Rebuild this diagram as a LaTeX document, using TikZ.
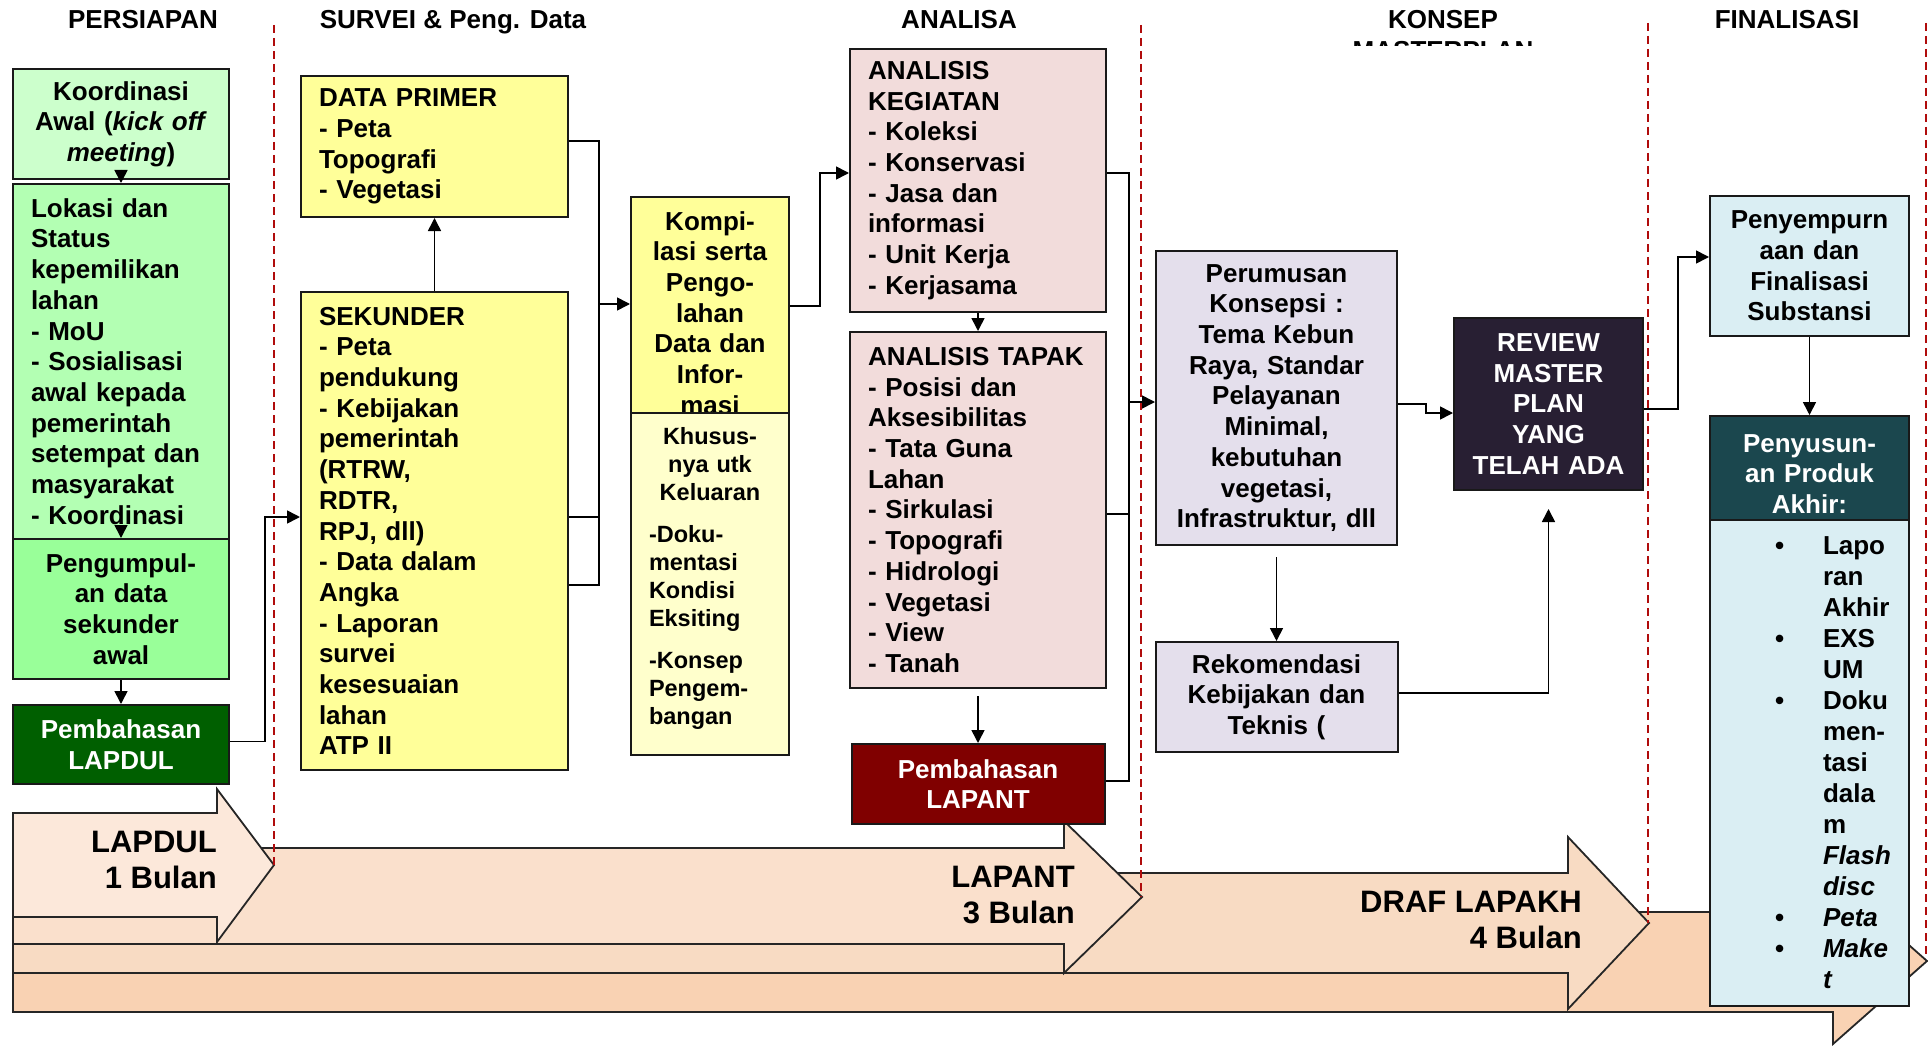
\documentclass[tikz,border=0pt]{standalone}
\usepackage{fontspec}
\setmainfont{Liberation Sans}
\usepackage{xcolor}
\usepackage{tikz}
\usetikzlibrary{arrows.meta,positioning,calc}

\definecolor{hijauMuda}{HTML}{CCFFCC}
\definecolor{hijauSedang}{HTML}{B3FFB3}
\definecolor{hijauTerang}{HTML}{99FF99}
\definecolor{hijauTua}{HTML}{005F00}
\definecolor{kuning}{HTML}{FFFF99}
\definecolor{kuningMuda}{HTML}{FFFFCC}
\definecolor{merahMuda}{HTML}{F2DCDB}
\definecolor{merahTua}{HTML}{800000}
\definecolor{ungu}{HTML}{E4DFEC}
\definecolor{unguTua}{HTML}{281F33}
\definecolor{biruMuda}{HTML}{DAEEF3}
\definecolor{tosca}{HTML}{1B474E}
\definecolor{panahA}{HTML}{FCE8DA}
\definecolor{panahB}{HTML}{FAE0CC}
\definecolor{panahC}{HTML}{F8DBC3}
\definecolor{panahD}{HTML}{F9D2B3}
\definecolor{garis}{HTML}{B00C0C}

\newcommand{\butir}{\makebox[113pt][l]{\hspace*{65pt}•}}
\newcommand{\lanjut}{\hspace*{113pt}}

\begin{document}
\begin{tikzpicture}[
    x=1pt, y=-1pt,
    every node/.style={font=\bfseries\fontsize{26}{30.7}\selectfont},
    kotak/.style={
      rectangle, draw=black!90, line width=2pt,
      inner xsep=18pt, inner ysep=0pt, anchor=north west
    },
    conn/.style={line width=1.6pt, black},
    arr/.style={conn, -{Triangle[length=13pt,width=13pt]}},
    batas/.style={garis, line width=1.6pt, dash pattern=on 8pt off 5pt},
    panah/.style={draw=black!85, line width=1.8pt, line join=miter},
    judul/.style={anchor=base},
    ket/.style={font=\bfseries\fontsize{31}{36}\selectfont, align=right,
      anchor=north east, inner sep=0pt}
  ]
    \useasboundingbox (0,0) rectangle (1928,1046);

    % -- timeline arrows (back to front) --
    \draw[panah, fill=panahD] (13,912) -- (1833,912) -- (1833,878) -- (1927,961)
      -- (1833,1044) -- (1833,1012) -- (13,1012) -- cycle;
    \draw[panah, fill=panahC] (13,873) -- (1568,873) -- (1568,837) -- (1649,923)
      -- (1568,1009) -- (1568,973) -- (13,973) -- cycle;
    \draw[panah, fill=panahB] (13,848) -- (1064,848) -- (1064,821) -- (1142,897)
      -- (1064,973) -- (1064,944) -- (13,944) -- cycle;
    \draw[panah, fill=panahA] (13,813) -- (217,813) -- (217,789) -- (274,865)
      -- (217,942) -- (217,917) -- (13,917) -- cycle;

    \node[ket] (ket-lapdul) at (217,831) {LAPDUL\\1 Bulan};
    \node[ket] (ket-lapant) at (1075,866) {LAPANT\\3 Bulan};
    \node[ket] (ket-lapakh) at (1582,891) {DRAF LAPAKH\\4 Bulan};

    % -- phase separators --
    \coordinate (ujungA) at (274,865);
    \coordinate (ujungB) at (1141,897);
    \coordinate (ujungC) at (1648,923);
    \coordinate (ujungD) at (1926,958);
    \draw[batas] (274,25) -- (ujungA);
    \draw[batas] (1141,25) -- (ujungB);
    \draw[batas] (1648,23) -- (ujungC);
    \draw[batas] (1926,23) -- (ujungD);

    % -- phase headers --
    \node[judul] (hdr-persiapan) at (143,29) {PERSIAPAN};
    \node[judul] (hdr-survei) at (453,29) {SURVEI \& Peng. Data};
    \node[judul] (hdr-analisa) at (959,29) {ANALISA};
    \begin{scope}
      \clip (1300,0) rectangle (1600,46);
      \node[align=center, anchor=north, inner sep=0pt] (hdr-konsep) at (1443,10.5)
        {KONSEP\\MASTERPLAN};
    \end{scope}
    \node[judul] (hdr-final) at (1787,29) {FINALISASI};

    % -- PERSIAPAN --
    \node[kotak, fill=hijauMuda, minimum width=216pt, minimum height=110pt,
      text width=180pt, align=center] (koord) at (12,68)
      {Koordinasi\\Awal (\textit{kick off}\\\textit{meeting})};
    \node[kotak, fill=hijauSedang, minimum width=216pt, minimum height=355pt,
      text width=180pt, align=left, below=3pt of koord] (lokasi)
      {Lokasi dan\\Status\\kepemilikan\\lahan\\- MoU\\- Sosialisasi\\awal kepada\\pemerintah\\setempat dan\\masyarakat\\- Koordinasi};
    \node[kotak, fill=hijauTerang, minimum width=216pt, minimum height=140pt,
      text width=180pt, align=center, below=-2pt of lokasi] (pengumpulan)
      {Pengumpul-\\an data\\sekunder\\awal};
    \node[kotak, fill=hijauTua, text=white, minimum width=216pt, minimum height=79pt,
      text width=180pt, align=center, below=24pt of pengumpulan] (lapdul)
      {Pembahasan\\LAPDUL};

    \draw[arr] ([yshift=10pt]koord.south) -- (lokasi.north);
    \draw[arr] ([yshift=14pt]lokasi.south) -- (pengumpulan.north);
    \draw[arr] (pengumpulan.south) -- (lapdul.north);

    % -- SURVEI --
    \node[kotak, fill=kuning, minimum width=267pt, minimum height=141pt,
      text width=231pt, align=left] (primer) at (300,75)
      {DATA PRIMER\\- Peta\\Topografi\\- Vegetasi};
    \node[kotak, fill=kuning, minimum width=267pt, minimum height=478pt,
      text width=231pt, align=left, below=73pt of primer] (sekunder)
      {SEKUNDER\\- Peta\\pendukung\\- Kebijakan\\pemerintah\\(RTRW,\\RDTR,\\RPJ, dll)\\- Data dalam\\Angka\\- Laporan\\survei\\kesesuaian\\lahan\\ATP II};

    \draw[arr] ([yshift=3pt]lapdul.east) -- ++(35,0) |- ([yshift=14pt]sekunder.west);
    \draw[arr] (sekunder.north) -- (primer.south);

    % -- kompilasi --
    \node[kotak, fill=kuning, minimum width=158pt, minimum height=232pt,
      text width=122pt, align=center] (kompilasi) at (630,196)
      {Kompi-\\lasi serta\\Pengo-\\lahan\\Data dan\\Infor-\\masi};
    \node[kotak, fill=kuningMuda, minimum width=158pt, minimum height=342pt,
      text width=122pt, align=left, below=-18pt of kompilasi,
      font=\bfseries\fontsize{23.5}{27.7}\selectfont] (khusus)
      {\makebox[122pt]{Khusus-}\\\makebox[122pt]{nya utk}\\\makebox[122pt]{Keluaran}\\[15pt]-Doku-\\mentasi\\Kondisi\\Eksiting\\[15pt]-Konsep\\Pengem-\\bangan\rule[-16pt]{0pt}{0pt}};

    \coordinate (bus1) at (599,304);
    \draw[conn] ([yshift=5.5pt]primer.east) -| (bus1) |- ([yshift=-54pt]sekunder.east);
    \draw[conn] ([yshift=14pt]sekunder.east) -- ([yshift=14pt]sekunder.east -| bus1);
    \draw[arr] (bus1) -- (bus1 -| kompilasi.west);

    % -- ANALISA --
    \node[kotak, fill=merahMuda, minimum width=256pt, minimum height=263pt,
      text width=220pt, align=left] (ak) at (849,48)
      {ANALISIS\\KEGIATAN\\- Koleksi\\- Konservasi\\- Jasa dan\\informasi\\- Unit Kerja\\- Kerjasama};
    \node[kotak, fill=merahMuda, minimum width=256pt, minimum height=356pt,
      text width=220pt, align=left, below=18pt of ak] (at)
      {ANALISIS~TAPAK\\- Posisi dan\\Aksesibilitas\\- Tata Guna\\Lahan\\- Sirkulasi\\- Topografi\\- Hidrologi\\- Vegetasi\\- View\\- Tanah};
    \node[kotak, fill=merahTua, text=white, minimum width=253pt, minimum height=80pt,
      text width=217pt, align=center, below=54pt of at] (lapant)
      {Pembahasan\\LAPANT};

    \draw[arr] ([yshift=7pt]kompilasi.east) -- ++(30,0) |- ([yshift=7.5pt]ak.west);
    \draw[arr] (ak.south) -- (at.north);
    \draw[arr] ([yshift=-7pt]at.south) -- (lapant.north);

    \coordinate (bus2) at (1129,402);
    \draw[conn] ([yshift=7.5pt]ak.east) -| (bus2) |- ([yshift=3pt]lapant.east);
    \draw[conn] ([yshift=-4pt]at.east) -- ([yshift=-4pt]at.east -| bus2);

    % -- KONSEP MASTERPLAN --
    \node[kotak, fill=ungu, minimum width=241pt, minimum height=294pt,
      text width=205pt, align=center] (perumusan) at (1155,250)
      {Perumusan\\Konsepsi :\\Tema Kebun\\Raya, Standar\\Pelayanan\\Minimal,\\kebutuhan\\vegetasi,\\Infrastruktur,~dll};
    \node[kotak, fill=ungu, minimum width=242pt, minimum height=110pt,
      text width=206pt, align=center, below=95pt of perumusan] (rekomendasi)
      {Rekomendasi\\Kebijakan dan\\Teknis (};
    \node[kotak, fill=unguTua, text=white, minimum width=189pt, minimum height=172pt,
      inner xsep=10pt, text width=169pt, align=center] (review) at (1453,317)
      {REVIEW\\MASTER\\PLAN\\YANG\\TELAH~ADA};

    \draw[arr] (bus2) -- (bus2 -| perumusan.west);
    \draw[arr] ([yshift=-6pt]perumusan.east) -- ++(28,0) |- ([yshift=-9pt]review.west);
    \draw[arr] ([yshift=-11pt]perumusan.south) -- (rekomendasi.north);
    \draw[arr] ([yshift=4pt]rekomendasi.east) -| ([yshift=-18pt]review.south);

    % -- FINALISASI --
    \node[kotak, fill=biruMuda, minimum width=199pt, minimum height=140pt,
      text width=163pt, align=center] (peny) at (1709,195)
      {Penyempurn\\aan dan\\Finalisasi\\Substansi};
    \node[kotak, fill=tosca, text=white, minimum width=199pt, minimum height=116pt,
      text width=163pt, align=center, below=78pt of peny] (penyusun)
      {Penyusun-\\an Produk\\Akhir:};
    \node[kotak, fill=biruMuda, minimum width=199pt, minimum height=486pt,
      inner xsep=0pt, text width=199pt, align=left, below=-14pt of penyusun,
      font=\bfseries\fontsize{26}{31}\selectfont] (produk)
      {\butir Lapo\\\lanjut ran\\\lanjut Akhir\\\butir EXS\\\lanjut UM\\\butir Doku\\\lanjut men-\\\lanjut tasi\\\lanjut dala\\\lanjut m\\\lanjut\textit{Flash}\\\lanjut\textit{disc}\\\butir\textit{Peta}\\\butir\textit{Make}\\\lanjut\textit{t}};

    \draw[arr] ([yshift=-5pt]review.east) -- ++(34,0) |- ([yshift=9pt]peny.west);
    \draw[arr] (peny.south) -- (penyusun.north);

  \end{tikzpicture}
\end{document}
